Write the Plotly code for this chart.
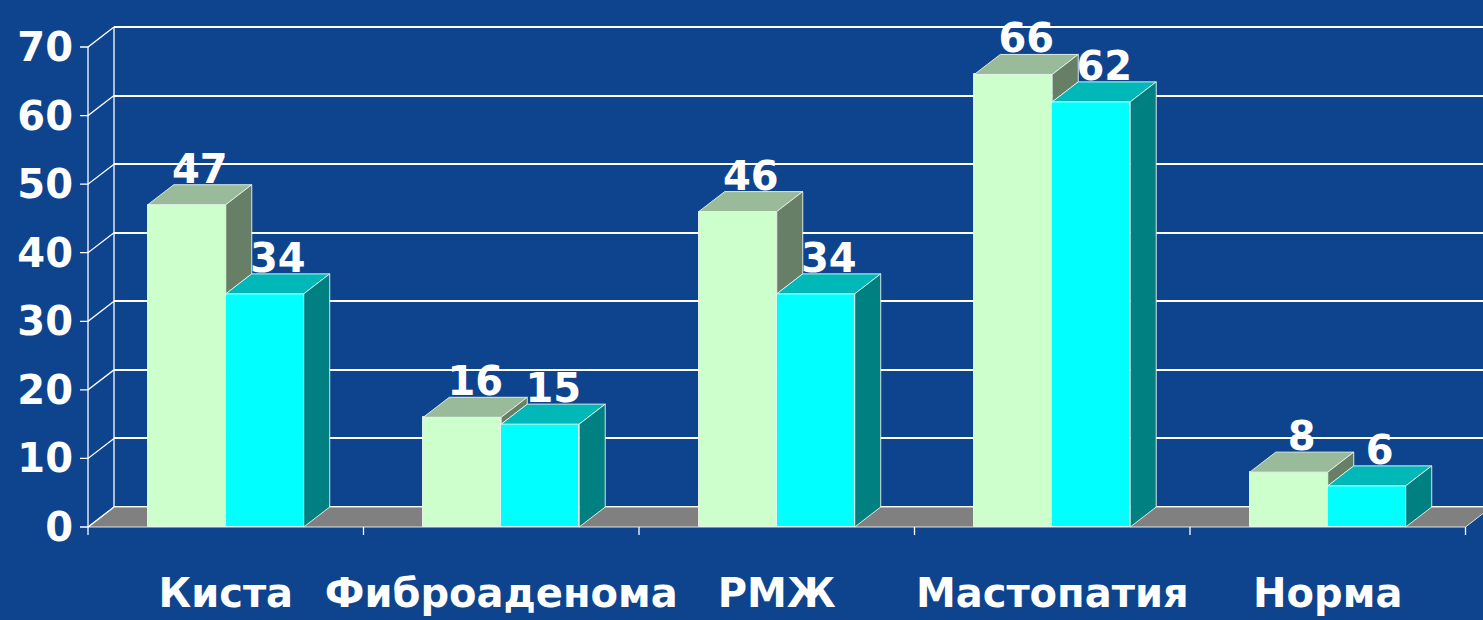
import plotly.graph_objects as go

# ---------------- data ----------------
categories = ["Киста", "Фиброаденома", "РМЖ", "Мастопатия", "Норма"]
series1 = [47, 16, 46, 66, 8]
series2 = [34, 15, 34, 62, 6]
y_ticks = [0, 10, 20, 30, 40, 50, 60, 70]

# ---------------- layout constants (pixels) ----------------
W, H = 1483, 620
PX_CAT = 275.5          # pixels per category
PX_UNIT = 6.857         # pixels per value unit
DEPTH_X, DEPTH_Y = 26, 20
ZERO_PX = 527           # pixel row of value 0 (front)
BOTTOM_PX = 540         # bottom of plot area
AXIS_PX = 88            # front value axis
DOMAIN_LEFT_PX = 80
WALL_PX = 114
BAR_W = 0.283
LABEL_DROP_PX = 8

BG = "#0e448e"
GREEN_FRONT, GREEN_TOP, GREEN_SIDE = "#CCFFCC", "#99BB99", "#667F66"
CYAN_FRONT, CYAN_TOP, CYAN_SIDE = "#00FFFF", "#00B8B8", "#008080"
EDGE = "rgba(235,245,240,0.9)"
FONT = dict(family="DejaVu Sans", size=40, color="white", weight="bold")

dxu = DEPTH_X / PX_CAT
dyu = DEPTH_Y / PX_UNIT
y2min = -(BOTTOM_PX - ZERO_PX) / PX_UNIT
y2max = ZERO_PX / PX_UNIT
x2min = -0.5 - (AXIS_PX - DOMAIN_LEFT_PX) / PX_CAT
x2max = -0.5 + (W - AXIS_PX) / PX_CAT
ymax = max(y_ticks)

xs = list(range(len(categories)))

fig = go.Figure()

# invisible trace to create the back-wall subplot (gridlines)
fig.add_trace(go.Scatter(x=[0, 1], y=[0, 0], xaxis="x", yaxis="y", mode="markers",
                         marker=dict(opacity=0), hoverinfo="skip", showlegend=False))

# front faces (bars)
fig.add_trace(go.Bar(x=xs, y=series1, width=BAR_W, offset=-BAR_W, xaxis="x2", yaxis="y2",
                     marker=dict(color=GREEN_FRONT, line=dict(color=EDGE, width=1)),
                     showlegend=False, name="Ряд 1"))
fig.add_trace(go.Bar(x=xs, y=series2, width=BAR_W, offset=0, xaxis="x2", yaxis="y2",
                     marker=dict(color=CYAN_FRONT, line=dict(color=EDGE, width=1)),
                     showlegend=False, name="Ряд 2"))


def faces(vals, offset, lows):
    tx, ty, sx, sy = [], [], [], []
    for i, v in enumerate(vals):
        xl = i + offset
        xr = xl + BAR_W
        lo = lows[i]
        tx += [xl, xr, xr + dxu, xl + dxu, xl, None]
        ty += [v, v, v + dyu, v + dyu, v, None]
        sx += [xr, xr + dxu, xr + dxu, xr, xr, None]
        sy += [v, v + dyu, lo + dyu, lo, v, None]
    return tx, ty, sx, sy


g_lows = [min(a, b) for a, b in zip(series1, series2)]
c_lows = [0] * len(series2)
for vals, off, lows, ctop, cside in [(series1, -BAR_W, g_lows, GREEN_TOP, GREEN_SIDE),
                                      (series2, 0, c_lows, CYAN_TOP, CYAN_SIDE)]:
    tx, ty, sx, sy = faces(vals, off, lows)
    fig.add_trace(go.Scatter(x=tx, y=ty, xaxis="x2", yaxis="y2", mode="lines", fill="toself",
                             fillcolor=ctop, line=dict(color=EDGE, width=1),
                             hoverinfo="skip", showlegend=False))
    fig.add_trace(go.Scatter(x=sx, y=sy, xaxis="x2", yaxis="y2", mode="lines", fill="toself",
                             fillcolor=cside, line=dict(color=EDGE, width=1),
                             hoverinfo="skip", showlegend=False))

# axis frame lines: front axis, tick marks, diagonals, back wall edge, category ticks
lx, ly = [], []
for v in y_ticks:
    lx += [x2min, -0.5, -0.5 + dxu, None]
    ly += [v, v, v + dyu, None]
lx += [-0.5, -0.5, None, -0.5 + dxu, -0.5 + dxu, None]
ly += [0, ymax, None, dyu, ymax + dyu, None]
for b in range(len(categories) + 1):
    lx += [b - 0.5, b - 0.5, None]
    ly += [0, -8 / PX_UNIT, None]
fig.add_trace(go.Scatter(x=lx, y=ly, xaxis="x2", yaxis="y2", mode="lines",
                         line=dict(color="white", width=1.3), hoverinfo="skip", showlegend=False))

# value labels
for vals, off in [(series1, -BAR_W), (series2, 0)]:
    fig.add_trace(go.Scatter(x=[i + off + BAR_W / 2 + dxu / 2 for i in xs],
                             y=[v + dyu - LABEL_DROP_PX / PX_UNIT for v in vals],
                             text=[str(v) for v in vals],
                             mode="text", textposition="top center", textfont=FONT,
                             xaxis="x2", yaxis="y2", cliponaxis=False,
                             hoverinfo="skip", showlegend=False))

# floor
n = len(categories)
floor_path = (f"M {-0.5},0 L {n - 0.5},0 L {n - 0.5 + dxu},{dyu} "
              f"L {-0.5 + dxu},{dyu} Z")
fig.add_shape(type="path", path=floor_path, xref="x2", yref="y2", layer="between",
              fillcolor="#808080", line=dict(color=EDGE, width=1))

fig.update_layout(
    width=W, height=H,
    margin=dict(l=0, r=0, t=0, b=H - BOTTOM_PX),
    paper_bgcolor=BG, plot_bgcolor="rgba(0,0,0,0)",
    showlegend=False, bargap=0,
    xaxis=dict(domain=[WALL_PX / W, 1], range=[0, 1], visible=False, anchor="y"),
    yaxis=dict(domain=[0, 1], range=[y2min - dyu, y2max - dyu], anchor="x",
               tickvals=y_ticks, showgrid=True, gridcolor="white", gridwidth=2,
               showticklabels=False, ticks="", zeroline=False, showline=False),
    xaxis2=dict(domain=[DOMAIN_LEFT_PX / W, 1], range=[x2min, x2max], anchor="y2",
                tickvals=xs, ticktext=categories, ticks="", showgrid=False,
                zeroline=False, showline=False, tickfont=FONT, ticklabelstandoff=26),
    yaxis2=dict(domain=[0, 1], range=[y2min, y2max], anchor="x2",
                tickvals=y_ticks, ticks="", showgrid=False, zeroline=False,
                showline=False, tickfont=FONT, ticklabelstandoff=6),
)

fig.write_html("out.html", config={"displayModeBar": False},
               post_script="document.body.style.margin='0';document.body.style.background='" + BG + "';")
